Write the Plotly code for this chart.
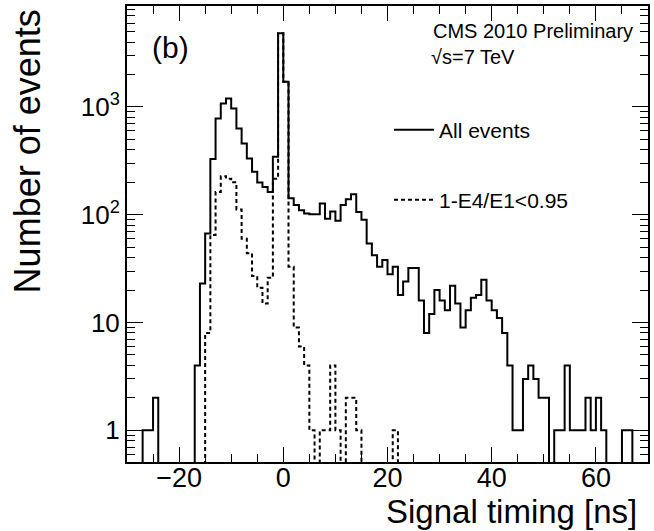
import numpy as np
import plotly.graph_objects as go

# 1 ns bins from -30 to 70 ns (low edges)
bin_low = list(range(-30, 70))

# All events
all_events = [
    0, 0, 0, 1, 1, 2, 0, 0, 0, 0,            # -30 .. -21
    0, 0, 0, 4, 23, 67, 330, 784, 1080, 1200,  # -20 .. -11
    970, 632, 459, 333, 250, 199, 181, 163, 345, 4820,  # -10 .. -1
    1714, 142, 123, 110, 103, 101, 101, 127, 92, 107,   # 0 .. 9
    88, 123, 139, 155, 106, 90, 54, 42, 33, 38,         # 10 .. 19
    28, 33, 18, 24, 32, 32, 16, 8, 12, 20,              # 20 .. 29
    16, 13, 22, 15, 9, 13, 17, 18, 25, 16,              # 30 .. 39
    13, 11, 8, 4, 1, 1, 3, 4, 3, 2,                     # 40 .. 49
    2, 0, 1, 1, 4, 1, 1, 1, 2, 1,                       # 50 .. 59
    2, 1, 0, 0, 0, 1, 1, 0, 0, 0,                       # 60 .. 69
]

# Events passing 1-E4/E1<0.95
swiss_cut = [
    0, 0, 0, 0, 0, 0, 0, 0, 0, 0,            # -30 .. -21
    0, 0, 0, 0, 0, 8, 65, 163, 228, 216,     # -20 .. -11
    200, 112, 60, 44, 27, 21, 15, 26, 216, 4820,  # -10 .. -1
    1714, 33, 9, 6, 4, 1, 0, 1, 1, 4,        # 0 .. 9
    1, 0, 2, 2, 1, 0, 0, 0, 0, 0,            # 10 .. 19
    0, 1, 0, 0, 0, 0, 0, 0, 0, 0,            # 20 .. 29
] + [0] * 40                                  # 30 .. 69

y_tick_vals = [1, 10, 100, 1000]
y_tick_text = ["1", "10", "10<sup>2</sup>", "10<sup>3</sup>"]
x_tick_vals = [-20, 0, 20, 40, 60]

FONT = "Liberation Sans, Arial, Helvetica, sans-serif"
Y_LO, Y_HI = -0.294, 3.937  # log10 axis limits
FLOOR = 1e-2                 # empty bins drop below the frame


def step_outline(values):
    v = np.asarray(values, dtype=float)
    v = np.where(v > 0, v, FLOOR)
    edges = np.append(np.asarray(bin_low, dtype=float), bin_low[-1] + 1)
    return edges, np.append(v, v[-1])


fig = go.Figure()

xs, ys = step_outline(swiss_cut)
fig.add_trace(go.Scatter(
    x=xs, y=ys, mode="lines", name="1-E4/E1&lt;0.95", legend="legend2",
    line=dict(shape="hv", color="black", width=2, dash="4px,3px"),
))

xa, ya = step_outline(all_events)
fig.add_trace(go.Scatter(
    x=xa, y=ya, mode="lines", name="All events", legend="legend",
    line=dict(shape="hv", color="black", width=2),
))

minor_y = [m * 10 ** e for e in range(-1, 4) for m in range(2, 10)
           if 10 ** Y_LO <= m * 10 ** e <= 10 ** Y_HI]

fig.update_xaxes(
    range=[-30, 70], tickmode="array", tickvals=x_tick_vals,
    ticks="inside", ticklen=15, tickwidth=1, tickcolor="black",
    showline=True, linecolor="black", linewidth=2, mirror="allticks",
    showgrid=False, zeroline=False, ticklabelstandoff=-9,
    tickfont=dict(family=FONT, size=27, color="black"),
    minor=dict(ticks="inside", ticklen=8, tickwidth=1, tickcolor="black",
               tickmode="linear", tick0=0, dtick=5, showgrid=False),
)
fig.update_yaxes(
    type="log", range=[Y_LO, Y_HI], tickmode="array",
    tickvals=y_tick_vals, ticktext=y_tick_text,
    ticks="inside", ticklen=16, tickwidth=1, tickcolor="black",
    showline=True, linecolor="black", linewidth=2, mirror="allticks",
    showgrid=False, zeroline=False,
    tickfont=dict(family=FONT, size=26, color="black"),
    minor=dict(ticks="inside", ticklen=8, tickwidth=1, tickcolor="black",
               tickmode="array", tickvals=minor_y, showgrid=False),
)

PX0, PX1, PY0, PY1 = 127, 650, 6, 462


def px(x):
    return (x - PX0) / (PX1 - PX0)


def py(y):
    return (PY1 - y) / (PY1 - PY0)


annotations = [
    dict(text="(b)", x=px(150), y=py(48), xanchor="left", yanchor="middle",
         font=dict(size=30)),
    dict(text="CMS 2010 Preliminary", x=px(432), y=py(31), xanchor="left",
         yanchor="middle", font=dict(size=20)),
    dict(text="√s=7 TeV", x=px(430), y=py(57), xanchor="left",
         yanchor="middle", font=dict(size=20)),
    dict(text="Signal timing [ns]", x=px(641), y=py(511), xanchor="right",
         yanchor="middle", font=dict(size=33)),
    dict(text="Number of events", x=px(28), y=py(7), xanchor="center",
         yanchor="top", textangle=-90, font=dict(size=36)),
]
for a in annotations:
    a.update(xref="paper", yref="paper", showarrow=False)
    a["font"].update(family=FONT, color="black")

legend_style = dict(xanchor="left", yanchor="middle", bgcolor="rgba(0,0,0,0)",
                    borderwidth=0, itemwidth=40,
                    font=dict(family=FONT, size=21, color="black"))

fig.update_layout(
    width=654, height=531,
    margin=dict(l=PX0, r=654 - PX1, t=PY0, b=531 - PY1),
    paper_bgcolor="white", plot_bgcolor="white",
    showlegend=True,
    legend=dict(x=px(390), y=py(130), **legend_style),
    legend2=dict(x=px(390), y=py(200), **legend_style),
    annotations=annotations,
    font=dict(family=FONT, color="black"),
)

fig.write_html("out.html")
